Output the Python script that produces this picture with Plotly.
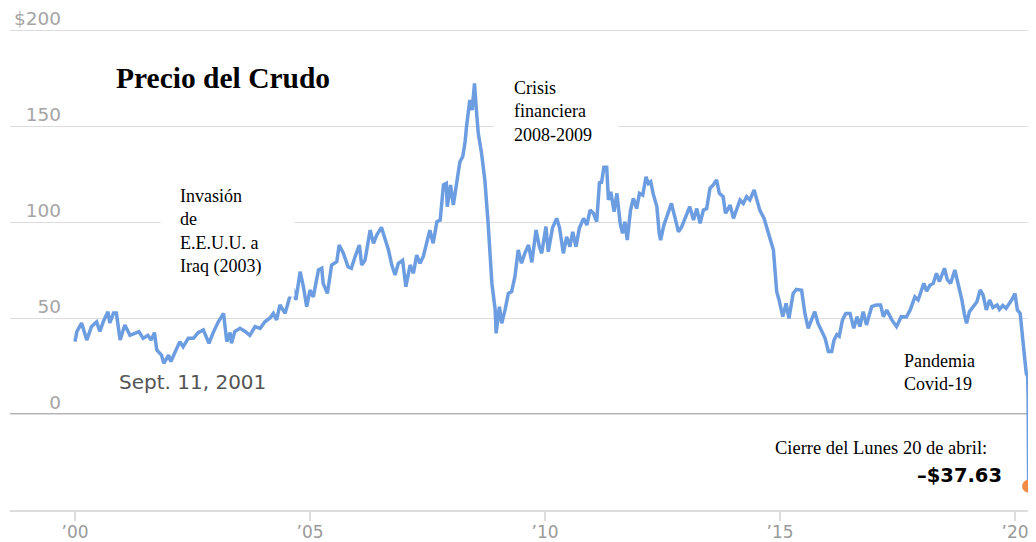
import plotly.graph_objects as go

# ---- data (decimal year, price USD) ----
years = [
    2000.00, 2000.04, 2000.14, 2000.25, 2000.35, 2000.46, 2000.53, 2000.60, 2000.70, 2000.74,
    2000.82, 2000.88, 2000.96, 2001.06, 2001.17, 2001.28, 2001.36, 2001.45, 2001.55, 2001.62,
    2001.69, 2001.74, 2001.84, 2001.89, 2001.99, 2002.04, 2002.13, 2002.23, 2002.30, 2002.41,
    2002.52, 2002.62, 2002.73, 2002.85, 2002.94, 2003.05, 2003.16, 2003.23, 2003.30, 2003.33,
    2003.40, 2003.51, 2003.62, 2003.72, 2003.83, 2003.94, 2004.04, 2004.15, 2004.22, 2004.29,
    2004.36, 2004.47, 2004.57, 2004.64, 2004.70, 2004.79, 2004.86, 2004.93, 2005.00, 2005.07,
    2005.18, 2005.25, 2005.28, 2005.37, 2005.46, 2005.57, 2005.62, 2005.71, 2005.81, 2005.88,
    2005.96, 2006.05, 2006.10, 2006.17, 2006.28, 2006.35, 2006.42, 2006.52, 2006.57, 2006.67,
    2006.74, 2006.81, 2006.88, 2006.97, 2007.04, 2007.13, 2007.20, 2007.27, 2007.34, 2007.41,
    2007.48, 2007.55, 2007.62, 2007.70, 2007.77, 2007.84, 2007.90, 2007.92, 2007.99, 2008.05,
    2008.13, 2008.19, 2008.25, 2008.30, 2008.33, 2008.40, 2008.45, 2008.50, 2008.54, 2008.58,
    2008.65, 2008.72, 2008.79, 2008.83, 2008.87, 2008.94, 2008.96, 2009.03, 2009.08, 2009.15,
    2009.22, 2009.29, 2009.36, 2009.43, 2009.50, 2009.57, 2009.65, 2009.72, 2009.81, 2009.88,
    2009.93, 2010.02, 2010.07, 2010.16, 2010.25, 2010.31, 2010.39, 2010.46, 2010.53, 2010.59,
    2010.66, 2010.73, 2010.82, 2010.89, 2010.96, 2011.03, 2011.10, 2011.16, 2011.20, 2011.26,
    2011.31, 2011.35, 2011.40, 2011.47, 2011.53, 2011.60, 2011.65, 2011.70, 2011.75, 2011.82,
    2011.88, 2011.95, 2012.01, 2012.08, 2012.15, 2012.20, 2012.25, 2012.30, 2012.38, 2012.43,
    2012.46, 2012.53, 2012.60, 2012.69, 2012.76, 2012.84, 2012.91, 2013.01, 2013.08, 2013.16,
    2013.23, 2013.30, 2013.37, 2013.44, 2013.51, 2013.58, 2013.65, 2013.71, 2013.79, 2013.84,
    2013.94, 2014.01, 2014.08, 2014.15, 2014.22, 2014.29, 2014.36, 2014.45, 2014.50, 2014.57,
    2014.66, 2014.76, 2014.86, 2014.93, 2014.98, 2015.06, 2015.13, 2015.19, 2015.28, 2015.35,
    2015.46, 2015.53, 2015.60, 2015.67, 2015.74, 2015.81, 2015.89, 2015.96, 2016.03, 2016.10,
    2016.15, 2016.21, 2016.26, 2016.33, 2016.40, 2016.49, 2016.57, 2016.64, 2016.70, 2016.77,
    2016.84, 2016.95, 2017.05, 2017.14, 2017.20, 2017.27, 2017.38, 2017.48, 2017.58, 2017.69,
    2017.77, 2017.87, 2017.94, 2018.06, 2018.12, 2018.19, 2018.26, 2018.33, 2018.39, 2018.50,
    2018.56, 2018.63, 2018.72, 2018.79, 2018.87, 2018.92, 2018.97, 2019.03, 2019.11, 2019.19,
    2019.26, 2019.32, 2019.39, 2019.46, 2019.53, 2019.62, 2019.67, 2019.74, 2019.81, 2019.93,
    2020.00, 2020.05, 2020.11, 2020.14, 2020.18, 2020.21, 2020.24, 2020.27, 2020.28, 2020.29,
]
prices = [
    37.7, 42.9, 47.4, 38.5, 45.5, 48.0, 43.0, 48.0, 53.3, 47.4,
    52.6, 52.6, 38.5, 46.4, 41.0, 42.0, 42.9, 39.4, 41.0, 38.5,
    42.4, 33.3, 30.7, 26.4, 30.7, 27.3, 32.5, 37.7, 35.0, 39.4,
    39.4, 42.4, 43.8, 36.8, 42.4, 48.0, 52.4, 37.7, 42.4, 36.8,
    42.9, 44.6, 43.0, 41.0, 45.5, 44.6, 48.0, 50.0, 52.4, 49.0,
    56.8, 52.4, 61.0, 65.4, 59.4, 74.1, 66.3, 55.9, 64.6, 61.0,
    75.0, 75.9, 68.0, 62.8, 77.6, 79.3, 88.0, 83.7, 76.7, 75.9,
    82.0, 88.0, 77.6, 80.0, 95.8, 88.9, 93.2, 97.2, 93.2, 85.4,
    77.6, 72.4, 78.5, 80.0, 66.3, 77.6, 73.3, 82.8, 78.5, 82.0,
    88.9, 95.8, 88.9, 100.2, 101.0, 119.3, 120.1, 108.0, 119.3, 108.9,
    121.9, 131.4, 134.0, 141.8, 149.6, 163.5, 158.3, 172.2, 158.3, 146.2,
    135.8, 121.9, 99.3, 80.2, 68.0, 54.2, 42.0, 55.9, 47.2, 54.2,
    62.8, 63.7, 71.5, 85.4, 78.5, 83.7, 88.0, 79.0, 95.8, 87.2,
    83.7, 97.6, 84.5, 97.0, 101.9, 97.0, 83.7, 92.3, 87.1, 94.9,
    87.1, 96.7, 101.9, 98.4, 106.2, 104.5, 100.2, 121.0, 120.0, 129.7,
    129.7, 111.5, 115.8, 105.4, 114.9, 99.3, 94.1, 100.2, 90.6, 106.2,
    112.3, 107.0, 114.9, 114.0, 123.6, 120.0, 121.0, 114.9, 108.0, 94.1,
    90.6, 98.4, 103.6, 109.7, 102.8, 94.9, 97.6, 104.5, 108.0, 101.0,
    107.0, 99.3, 106.2, 107.0, 117.5, 119.3, 121.9, 114.9, 113.2, 104.5,
    108.8, 101.9, 107.0, 111.5, 109.7, 113.2, 111.5, 116.7, 112.3, 106.2,
    102.0, 93.0, 85.4, 63.7, 59.4, 50.7, 57.6, 49.8, 62.8, 64.9,
    64.4, 52.4, 44.6, 49.0, 53.3, 47.2, 42.9, 39.4, 32.5, 32.5,
    38.5, 41.4, 40.5, 49.0, 52.4, 52.4, 44.6, 50.7, 45.5, 53.3,
    46.4, 55.9, 56.8, 56.8, 50.7, 54.2, 49.0, 45.5, 50.7, 50.5,
    54.2, 61.0, 59.4, 68.0, 64.0, 67.0, 68.0, 73.3, 69.0, 75.9,
    70.0, 68.0, 75.0, 68.0, 59.4, 52.4, 47.2, 53.3, 55.9, 58.5,
    64.6, 62.0, 54.2, 59.4, 55.5, 56.8, 54.5, 56.5, 55.0, 59.4,
    62.8, 54.2, 52.4, 43.8, 35.0, 28.1, 21.2, 19.4, 7.3, -37.63,
]

last_year = [2020.29]
last_price = [-37.63]

x_tickvals = [2000, 2005, 2010, 2015, 2020]
x_ticktext = ["’00", "’05", "’10", "’15", "’20"]
y_tickvals = [0, 50, 100, 150, 200]
y_ticktext = ["0", "50", "100", "150", "$200"]

LINE_COLOR = "#6c9de0"
DOT_COLOR = "#f28b45"
SERIF = "Liberation Serif"
SANS = "DejaVu Sans"

fig = go.Figure()
fig.add_trace(go.Scatter(x=years, y=prices, mode="lines",
                         line=dict(color=LINE_COLOR, width=3.5),
                         hoverinfo="skip", showlegend=False))
fig.add_trace(go.Scatter(x=last_year, y=last_price, mode="markers",
                         marker=dict(color=DOT_COLOR, size=13, line=dict(width=0)),
                         cliponaxis=False,
                         hoverinfo="skip", showlegend=False))

fig.add_hline(y=0, line=dict(color="#9a9a9a", width=1.5), layer="below")

annots = [
    dict(x=2000.83, y=175, text="<b>Precio del Crudo</b>",
         font=dict(family=SERIF, size=29.5, color="black"),
         xanchor="left", yanchor="middle", showarrow=False),
    dict(x=2001.81, y=94.8, text="Invasión<br>de<br>E.E.U.U. a<br>Iraq (2003)",
         font=dict(family=SERIF, size=18, color="black"), align="left",
         bgcolor="white", borderpad=19, width=95,
         xanchor="left", yanchor="middle", showarrow=False),
    dict(x=2008.89, y=157.3, text="Crisis<br>financiera<br>2008-2009",
         font=dict(family=SERIF, size=18, color="black"), align="left",
         bgcolor="white", borderpad=20, width=84,
         xanchor="left", yanchor="middle", showarrow=False),
    dict(x=2017.60, y=21.6, text="Pandemia<br>Covid-19",
         font=dict(family=SERIF, size=18, color="black"), align="left",
         xanchor="left", yanchor="middle", showarrow=False),
    dict(x=2000.90, y=16.7, text="Sept. 11, 2001",
         font=dict(family=SANS, size=20, color="#555555"),
         xanchor="left", yanchor="middle", showarrow=False),
    dict(x=2014.85, y=-17.7, text="Cierre del Lunes 20 de abril:",
         font=dict(family=SERIF, size=18.5, color="black"),
         xanchor="left", yanchor="middle", showarrow=False),
    dict(x=2019.76, y=-31.8, text="<b>–$37.63</b>",
         font=dict(family=SANS, size=19.5, color="black"),
         xanchor="right", yanchor="middle", showarrow=False),
]

# the page body has an 8px margin, so the figure is drawn 8px smaller
fig.update_layout(
    width=1028, height=534,
    margin=dict(l=2, r=0, t=12, b=32),
    paper_bgcolor="white", plot_bgcolor="white",
    annotations=annots,
    xaxis=dict(range=[1998.617, 2020.447], tickvals=x_tickvals, ticktext=x_ticktext,
               showgrid=False, zeroline=False, showline=True, linecolor="#dddddd",
               linewidth=1.5, ticks="outside", ticklen=9, tickcolor="#dddddd",
               tickwidth=1.5, ticklabelstandoff=-3,
               tickfont=dict(family=SANS, size=17, color="#9a9a9a"),
               fixedrange=True, automargin=False),
    yaxis=dict(range=[-50, 205.21], tickvals=y_tickvals, ticktext=y_ticktext,
               showgrid=True, gridcolor="#dddddd", gridwidth=1.2, zeroline=False,
               showline=False, ticks="", ticklabelposition="outside",
               ticklabelstandoff=-52, ticklabelshift=-11, ticklabeloverflow="allow",
               tickfont=dict(family=SANS, size=18.5, color="#a5a5a5"),
               fixedrange=True, automargin=False),
)

fig.write_html("out.html")
